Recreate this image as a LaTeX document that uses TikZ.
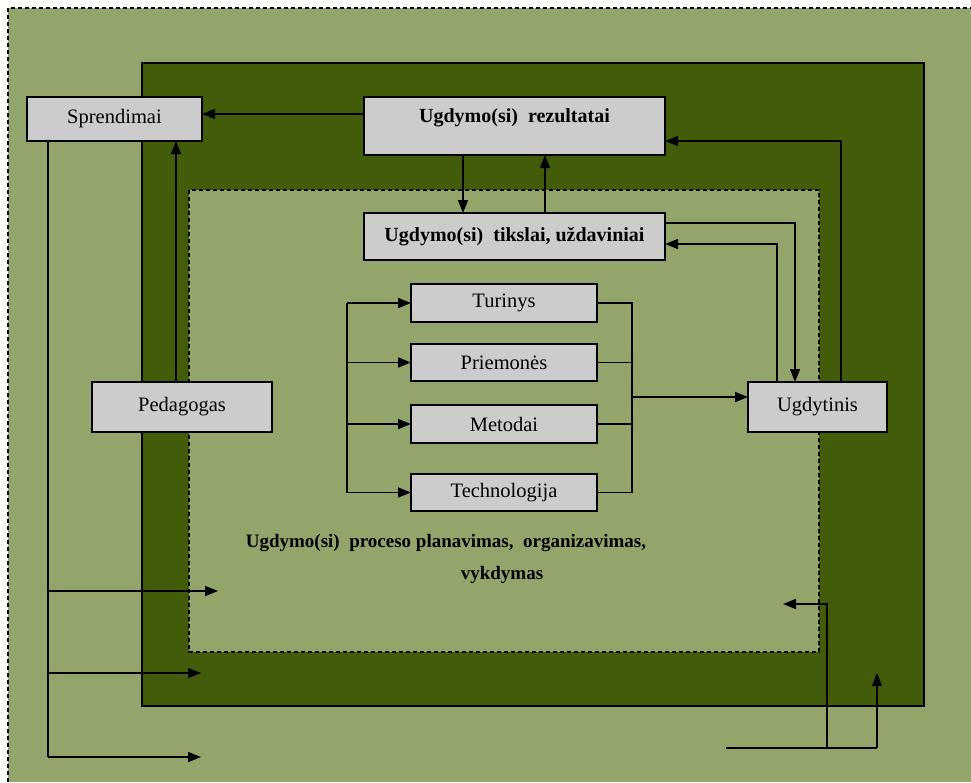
\documentclass[tikz,border=0pt]{standalone}
\usepackage{fontspec}
\setmainfont{Liberation Serif}
\usetikzlibrary{arrows.meta}
\definecolor{lightgreen}{RGB}{147,165,107}
\definecolor{darkgreen}{RGB}{66,92,10}
\definecolor{boxgray}{RGB}{204,204,204}
\begin{document}
\begin{tikzpicture}[x=1pt,y=-1pt,
  font=\fontsize{20.5}{24}\selectfont,
  box/.style={draw=black, line width=1.6pt, fill=boxgray, inner sep=0pt, outer sep=0pt},
  boldbox/.style={box, font=\fontsize{20}{24}\selectfont\bfseries},
  arr/.style={-{Triangle[length=13pt,width=10pt]}, line width=1.5pt},
  conn/.style={line width=1.5pt},
  frame/.style={line width=1.3pt, dash pattern=on 4pt off 3pt},
  title/.style={font=\fontsize{19}{23}\selectfont\bfseries, inner sep=0pt}]
\useasboundingbox (0,0) rectangle (971,782);
% backgrounds
\fill[lightgreen] (8,8) rectangle (971,782);
\draw[frame] (8,782) -- (8,8) -- (971,8);
\draw[fill=darkgreen, line width=1.5pt] (142,63) rectangle (924,706);
\draw[frame, fill=lightgreen] (189,190) rectangle (819,652);
% boxes
\node[box, minimum width=175pt, minimum height=44pt] (spr) at (114.5,119) {Sprendimai};
\node[boldbox, minimum width=301pt, minimum height=58pt, text height=14pt, text depth=22pt] (rez) at (514.5,126) {Ugdymo(si)\ \ rezultatai};
\node[boldbox, minimum width=301pt, minimum height=47pt] (tik) at (514.5,236.5) {Ugdymo(si)\ \ tikslai, uždaviniai};
\node[box, minimum width=180pt, minimum height=50pt] (ped) at (182,407) {Pedagogas};
\node[box, minimum width=139pt, minimum height=50pt] (ugd) at (817.5,407) {Ugdytinis};
\node[box, minimum width=186pt, minimum height=38pt] (tur) at (504,303) {Turinys};
\node[box, minimum width=186pt, minimum height=37pt] (pri) at (504,362.5) {Priemonės};
\node[box, minimum width=186pt, minimum height=38pt] (met) at (504,424) {Metodai};
\node[box, minimum width=186pt, minimum height=37pt] (tec) at (504,492.5) {Technologija};
% title text
\node[title] (t1) at (446,543) {Ugdymo(si)\ \ proceso planavimas,\ \ organizavimas,};
\node[title] (t2) at (502,575) {vykdymas};
% connectors top
\draw[arr] ([yshift=12pt]rez.west) -- ([yshift=12pt]rez.west -| spr.east);
\draw[arr] ([xshift=-6pt]ped.north) -- ([xshift=-6pt]ped.north |- spr.south);
\draw[arr] ([xshift=-51.5pt]rez.south) -- ([xshift=-51.5pt]rez.south |- tik.north);
\draw[arr] ([xshift=30.5pt]tik.north) -- ([xshift=30.5pt]tik.north |- rez.south);
\draw[arr] ([yshift=13.5pt]tik.east) -| ([xshift=-22.5pt]ugd.north);
\draw[arr] ([xshift=-40.5pt]ugd.north) |- ([yshift=-7.5pt]tik.east);
\draw[arr] ([xshift=23.5pt]ugd.north) |- ([yshift=-15pt]rez.east);
% left bus
\coordinate (lbt) at ([xshift=-64pt]tur.west);
\coordinate (lbb) at ([xshift=-64pt]tec.west);
\draw[conn] (lbt) -- (lbb);
\draw[arr] (lbt) -- (tur.west);
\draw[arr] (lbt |- pri.west) -- (pri.west);
\draw[arr] (lbt |- met.west) -- (met.west);
\draw[arr] (lbb) -- (tec.west);
% right bus
\coordinate (rbt) at ([xshift=35pt]tur.east);
\coordinate (rbb) at ([xshift=35pt]tec.east);
\draw[conn] (tur.east) -- (rbt) -- (rbb) -- (tec.east);
\draw[conn] (pri.east) -- (pri.east -| rbt);
\draw[conn] (met.east) -- (met.east -| rbt);
\coordinate (rbo) at (632,397);
\draw[arr] (rbo) -- (rbo -| ugd.west);
% bottom left
\coordinate (bl0) at ([xshift=-66.5pt]spr.south);
\coordinate (bl1) at (48,591);
\coordinate (bl2) at (48,673);
\coordinate (bl3) at (48,757);
\coordinate (bt1) at (218,591);
\coordinate (bt2) at (201,673);
\coordinate (bt3) at (201,757);
\draw[conn] (bl0) -- (bl3);
\draw[arr] (bl1) -- (bt1);
\draw[arr] (bl2) -- (bt2);
\draw[arr] (bl3) -- (bt3);
% bottom right
\coordinate (br0) at (726,748);
\coordinate (br1) at (827,748);
\coordinate (br2) at (877,748);
\coordinate (brt1) at (783,604);
\coordinate (brt2) at (877,673);
\draw[conn] (br0) -- (br2);
\draw[arr] (br1) |- (brt1);
\draw[arr] (br2) -- (brt2);
\end{tikzpicture}
\end{document}
